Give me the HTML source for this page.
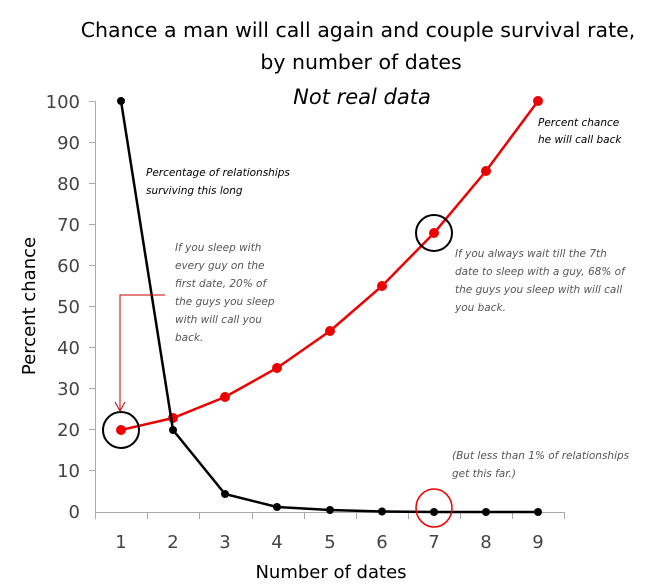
<!DOCTYPE html>
<html><head><style>
body{margin:0;background:#fff;}
svg{display:block;}
text{font-family:"DejaVu Sans","Liberation Sans",sans-serif;}
</style></head><body>
<svg width="663" height="585" viewBox="0 0 663 585" xmlns="http://www.w3.org/2000/svg">
<rect width="663" height="585" fill="#fff"/>
<text x="358" y="37" font-size="20.5" text-anchor="middle" fill="#000">Chance a man will call again and couple survival rate,</text>
<text x="361" y="69" font-size="20.5" text-anchor="middle" fill="#000">by number of dates</text>
<text x="362" y="104" font-size="21" text-anchor="middle" font-style="italic" fill="#000">Not real data</text>
<!-- axes -->
<g stroke="#aaa" stroke-width="1">
<line x1="95.5" y1="101" x2="95.5" y2="512"/>
<line x1="95" y1="512.5" x2="565" y2="512.5"/>
<line x1="89" y1="101.5" x2="95" y2="101.5"/>
<line x1="89" y1="142.5" x2="95" y2="142.5"/>
<line x1="89" y1="183.5" x2="95" y2="183.5"/>
<line x1="89" y1="224.5" x2="95" y2="224.5"/>
<line x1="89" y1="265.5" x2="95" y2="265.5"/>
<line x1="89" y1="306.5" x2="95" y2="306.5"/>
<line x1="89" y1="347.5" x2="95" y2="347.5"/>
<line x1="89" y1="388.5" x2="95" y2="388.5"/>
<line x1="89" y1="429.5" x2="95" y2="429.5"/>
<line x1="89" y1="470.5" x2="95" y2="470.5"/>
<line x1="95.5" y1="512" x2="95.5" y2="519"/>
<line x1="147.5" y1="512" x2="147.5" y2="519"/>
<line x1="199.5" y1="512" x2="199.5" y2="519"/>
<line x1="252.5" y1="512" x2="252.5" y2="519"/>
<line x1="304.5" y1="512" x2="304.5" y2="519"/>
<line x1="356.5" y1="512" x2="356.5" y2="519"/>
<line x1="408.5" y1="512" x2="408.5" y2="519"/>
<line x1="460.5" y1="512" x2="460.5" y2="519"/>
<line x1="512.5" y1="512" x2="512.5" y2="519"/>
<line x1="564.5" y1="512" x2="564.5" y2="519"/>
</g>
<g font-size="18" fill="#444" text-anchor="end">
<text x="80" y="108">100</text><text x="80" y="149">90</text><text x="80" y="190">80</text>
<text x="80" y="231">70</text><text x="80" y="272">60</text><text x="80" y="313">50</text>
<text x="80" y="354">40</text><text x="80" y="395">30</text><text x="80" y="436">20</text>
<text x="80" y="477">10</text><text x="80" y="518">0</text>
</g>
<g font-size="18" fill="#444" text-anchor="middle">
<text x="121" y="548">1</text><text x="173" y="548">2</text><text x="225" y="548">3</text>
<text x="277" y="548">4</text><text x="330" y="548">5</text><text x="382" y="548">6</text>
<text x="434" y="548">7</text><text x="486" y="548">8</text><text x="538" y="548">9</text>
</g>
<text x="331" y="578" font-size="18" text-anchor="middle" fill="#000">Number of dates</text>
<text transform="translate(35,306) rotate(-90)" font-size="18" text-anchor="middle" fill="#000">Percent chance</text>
<polyline fill="none" stroke="#e00" stroke-width="2.5" points="121,430 173,418 225,397 277,368 330,331 382,286 434,233 486,171 538,101"/>
<g fill="#e00">
<circle cx="121" cy="430" r="5"/><circle cx="173" cy="418" r="5"/><circle cx="225" cy="397" r="5"/>
<circle cx="277" cy="368" r="5"/><circle cx="330" cy="331" r="5"/><circle cx="382" cy="286" r="5"/>
<circle cx="434" cy="233" r="5"/><circle cx="486" cy="171" r="5"/><circle cx="538" cy="101" r="5"/>
</g>
<polyline fill="none" stroke="#000" stroke-width="2.5" points="121,101 173,430 225,494 277,507 330,510 382,511.5 434,512 486,512 538,512"/>
<g fill="#000">
<circle cx="121" cy="101" r="4"/><circle cx="173" cy="430" r="4"/><circle cx="225" cy="494" r="4"/>
<circle cx="277" cy="507" r="4"/><circle cx="330" cy="510" r="4"/><circle cx="382" cy="511.5" r="4"/>
<circle cx="434" cy="512" r="4"/><circle cx="486" cy="512" r="4"/><circle cx="538" cy="512" r="4"/>
</g>
<circle cx="121" cy="430" r="18" fill="none" stroke="#000" stroke-width="2"/>
<circle cx="434" cy="233" r="18" fill="none" stroke="#000" stroke-width="2"/>
<ellipse cx="434" cy="508" rx="18" ry="19" fill="none" stroke="#e00" stroke-width="1.5"/>
<polyline fill="none" stroke="#c00" stroke-width="1" points="165,295 120,295 120,410"/>
<polyline fill="none" stroke="#c00" stroke-width="1" points="115,402 120,411 125,402"/>
<g font-size="10.5" font-style="italic" fill="#000">
<text x="146" y="176">Percentage of relationships</text>
<text x="146" y="194">surviving this long</text>
<text x="538" y="126">Percent chance</text>
<text x="538" y="143">he will call back</text>
</g>
<g font-size="10.5" font-style="italic" fill="#555">
<text x="175" y="251">If you sleep with</text>
<text x="175" y="269">every guy on the</text>
<text x="175" y="287">first date, 20% of</text>
<text x="175" y="305">the guys you sleep</text>
<text x="175" y="323">with will call  you</text>
<text x="175" y="341">back.</text>
<text x="455" y="257">If you always wait till the 7th</text>
<text x="455" y="275">date to sleep with a guy, 68% of</text>
<text x="455" y="293">the guys you sleep with will call</text>
<text x="455" y="311">you back.</text>
<text x="452" y="459">(But less than 1% of relationships</text>
<text x="452" y="477">get this far.)</text>
</g>
</svg>
</body></html>
